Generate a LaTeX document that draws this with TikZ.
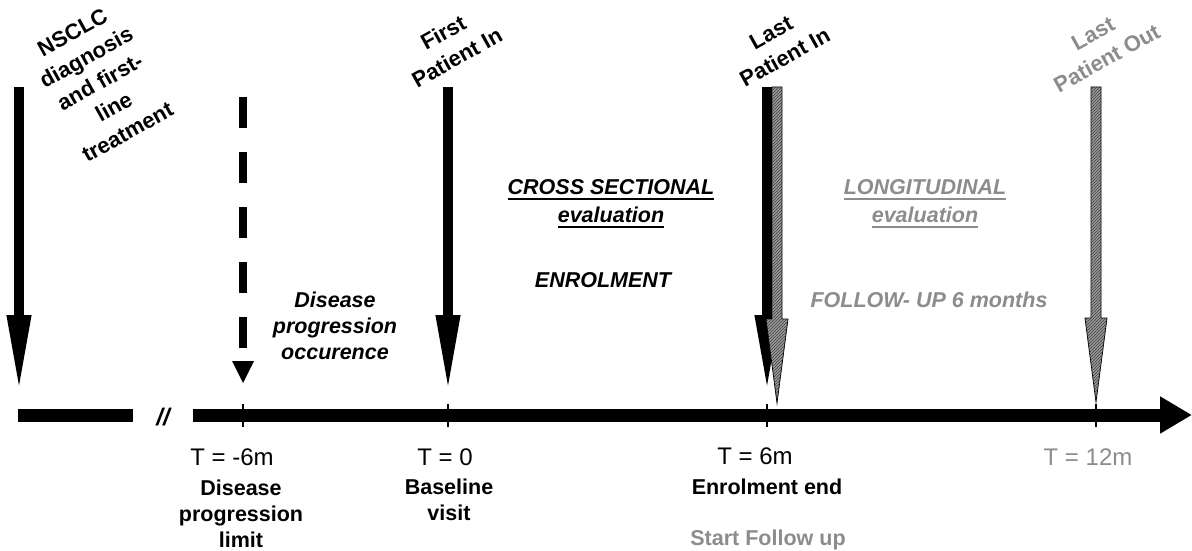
\documentclass[tikz,border=0pt]{standalone}
\usepackage{fontspec}
\setmainfont{Liberation Sans}
\usepackage{tikz}
\usetikzlibrary{arrows.meta,patterns,calc}
\definecolor{mygray}{gray}{0.55}
\definecolor{hatchgray}{gray}{0.6}
\tikzstyle{timebar} = [line width=13pt]
\tikzstyle{tickmark} = [line width=2.5pt]
\tikzstyle{event} = [line width=10pt,-{Triangle[length=78pt,width=22pt]}]
\tikzstyle{hatched} = [draw=black, line width=0.8pt, fill=hatchgray, postaction={pattern=north east lines, pattern color=black!75}]
\tikzstyle{toplabel} = [rotate=29, align=center, inner sep=0pt, font=\fontsize{22}{28.5}\selectfont\bfseries]
\tikzstyle{timelabel} = [inner sep=0pt, font=\fontsize{24}{26}\selectfont]
\tikzstyle{sublabel} = [align=center, inner sep=0pt, font=\fontsize{21.5}{26}\selectfont\bfseries]
\tikzstyle{phase} = [align=center, inner sep=0pt, font=\fontsize{21.5}{28}\selectfont\bfseries\itshape]
\newcommand{\ulbox}[1]{\leavevmode\vtop{\hbox{#1}\kern3pt\hrule height 2pt}}
\newcommand{\hatcharrow}[2]{%
  \filldraw[hatched] ($(#1)+(-5,0)$) -- ($(#1)+(5,0)$) -- ($(#2)+(5,-84)$) -- ($(#2)+(11,-84)$)
    -- (#2) -- ($(#2)+(-11,-84)$) -- ($(#2)+(-5,-84)$) -- cycle;}

\begin{document}
\begin{tikzpicture}[x=1pt,y=-1pt]
            \useasboundingbox (0,0) rectangle (1192,551);
            % Timeline
            \coordinate (tlA) at (18,415);
            \coordinate (tlB) at (133,415);
            \coordinate (tlC) at (193,415);
            \coordinate (tlEnd) at (1192,415);
            \draw[timebar] (tlA) -- (tlB);
            \draw[timebar,-{Triangle[length=32pt,width=35pt]}] (tlC) -- (tlEnd);
            \node[font=\fontsize{24}{24}\selectfont\bfseries\itshape, inner sep=0pt] (brk) at (163,417) {//};
            \foreach \x/\t in {243/tm6,448/t0,767/t6,1096/t12}{
                \coordinate (\t) at (\x,415);
                \draw[tickmark] (\x,404) -- (\x,427);
            }
            % Events
            \coordinate (nscTop) at (19,87);
            \coordinate (nscTip) at (19,393);
            \draw[event] (nscTop) -- (nscTip);
            \coordinate (dpTop) at (243,97);
            \coordinate (dpEnd) at (243,348);
            \coordinate (dpTip) at (243,383);
            \draw[line width=8pt, dash pattern=on 31pt off 24pt] (dpTop) -- (dpEnd);
            \fill (dpTip) -- ++(-11,-22) -- ++(22,0) -- cycle;
            \coordinate (fpiTop) at (448,87);
            \coordinate (fpiTip) at (448,393);
            \draw[event] (fpiTop) -- (fpiTip);
            \coordinate (lpiTop) at (767,87);
            \coordinate (lpiTip) at (767,393);
            \draw[event] (lpiTop) -- (lpiTip);
            \coordinate (fuTop) at (777,87);
            \coordinate (fuTip) at (777,403);
            \hatcharrow{fuTop}{fuTip}
            \coordinate (lpoTop) at (1096,87);
            \coordinate (lpoTip) at (1096,402);
            \hatcharrow{lpoTop}{lpoTip}
            % Top labels
            \node[toplabel] (nsclc) at (100,82) {NSCLC\\diagnosis\\and first-\\line\\treatment};
            \node[toplabel] (fpi) at (450,45) {First\\Patient In};
            \node[toplabel] (lpi) at (778,45) {Last\\Patient In};
            \node[toplabel, text=mygray] (lpo) at (1100,46) {Last\\Patient Out};
            % Phases
            \node[phase] (cross) at (611,204) {\ulbox{CROSS SECTIONAL}\\\ulbox{evaluation}};
            \node[phase, text=mygray] (longi) at (925,204) {\ulbox{LONGITUDINAL}\\\ulbox{evaluation}};
            \node[phase] (enrol) at (603,280) {ENROLMENT};
            \node[phase, text=mygray] (follow) at (929,300) {FOLLOW- UP 6 months};
            \node[phase, font=\fontsize{21.5}{26}\selectfont\bfseries\itshape] (dpocc) at (335,326) {Disease\\progression\\occurence};
            % Bottom labels
            \node[timelabel] (lblm6) at (232,457) {T = -6m};
            \node[sublabel] (lblm6b) at (241,514) {Disease\\progression\\limit};
            \node[timelabel] (lbl0) at (445,457) {T = 0};
            \node[sublabel] (lbl0b) at (449,500) {Baseline\\visit};
            \node[timelabel] (lbl6) at (755,456) {T = 6m};
            \node[sublabel] (lbl6b) at (767,487) {Enrolment end};
            \node[sublabel, text=mygray] (lbl6c) at (768,540) {Start Follow up};
            \node[timelabel, text=mygray] (lbl12) at (1088,457) {T = 12m};
        \end{tikzpicture}
\end{document}
